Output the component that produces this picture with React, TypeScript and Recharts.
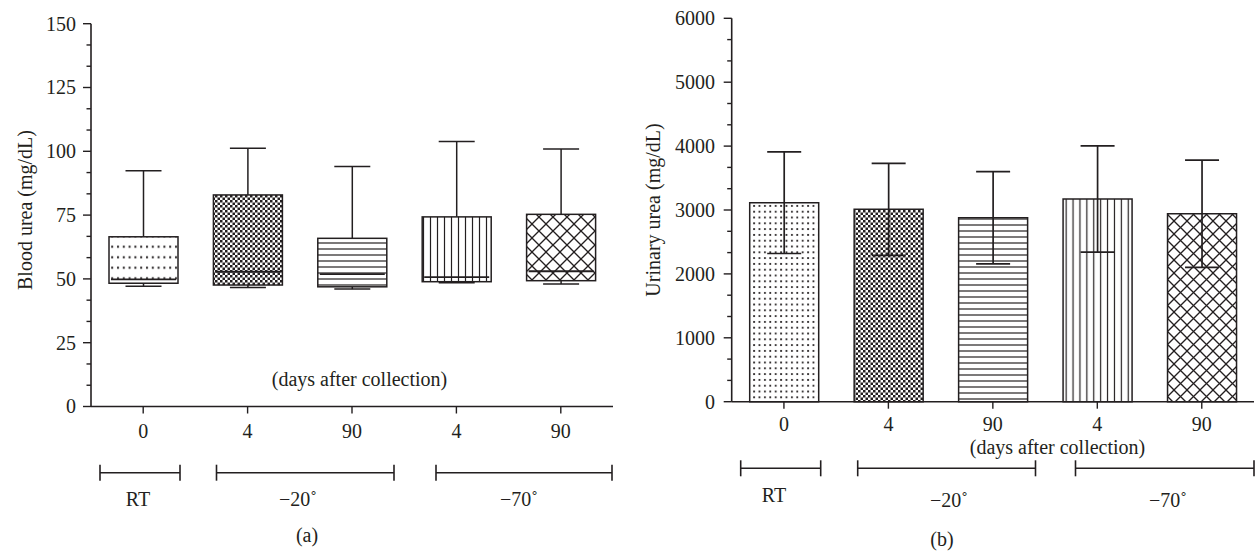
import React from "react"
import { ComposedChart, Bar, XAxis, YAxis, ErrorBar, Cell } from "recharts"

const INK = "#231f20"
const FONT = '"Liberation Serif", "Times New Roman", serif'

// categories shared by both panels
const groupIds = ["rt-0", "m20-4", "m20-90", "m70-4", "m70-90"]
const dayLabels = ["0", "4", "90", "4", "90"]

// (a) blood urea, box plot (mg/dL)
const bloodMin = [47.1, 46.6, 46.0, 48.5, 48.0]
const bloodQ1 = [48.3, 47.6, 46.9, 48.9, 49.3]
const bloodMedian = [49.8, 52.8, 51.9, 50.7, 53.0]
const bloodQ3 = [66.5, 82.9, 65.9, 74.3, 75.3]
const bloodMax = [92.4, 101.2, 94.0, 103.8, 100.9]
const bloodMajorTicks = [0, 25, 50, 75, 100, 125, 150]

// (b) urinary urea, mean and SD (mg/dL)
const urineMean = [3114, 3011, 2880, 3172, 2942]
const urineSd = [795, 720, 722, 832, 840]
const urineMajorTicks = [0, 1000, 2000, 3000, 4000, 5000, 6000]

const patternsA = ["dots-a", "check-a", "hline-a", "vline-a", "cross-a"]
const patternsB = ["dots-b", "check-b", "hline-b", "vline-b", "cross-b"]

const bloodRows = groupIds.map((id, i) => ({
  id,
  min: bloodMin[i],
  q1: bloodQ1[i],
  median: bloodMedian[i],
  q3: bloodQ3[i],
  max: bloodMax[i],
}))

const urineRows = groupIds.map((id, i) => ({
  id,
  mean: urineMean[i],
  sd: urineSd[i],
}))

// major ticks plus two minor ticks in every interval
function withMinor(majors: number[], per = 3) {
  const out: number[] = []
  for (let i = 0; i < majors.length - 1; i++) {
    const step = (majors[i + 1] - majors[i]) / per
    for (let k = 0; k < per; k++) out.push(majors[i] + step * k)
  }
  out.push(majors[majors.length - 1])
  return out
}

const Y_TICK_SIZE = 8

function renderYTick(props: any, majors: number[], margin: number) {
  const { x, y, payload } = props
  const v = payload.value
  const isMajor = majors.some((m) => Math.abs(m - v) < 1e-6)
  const ax = x + Y_TICK_SIZE + margin
  return (
    <g>
      <line x1={ax - (isMajor ? 8 : 4.5)} x2={ax} y1={y} y2={y} stroke={INK} strokeWidth={1.4} />
      {isMajor && (
        <text x={x} y={y} dy="0.34em" textAnchor="end" fill={INK} fontSize={20} fontFamily={FONT}>
          {v}
        </text>
      )}
    </g>
  )
}

function Patterns({ ids, dot, dotSize, check, hline, vline, cross }: any) {
  return (
    <defs>
      <pattern id={ids[0]} width={dot[0]} height={dot[1]} patternUnits="userSpaceOnUse">
        <rect width={dot[0]} height={dot[1]} fill="#fff" />
        <rect x={1} y={dot[1] / 2 - dotSize / 2} width={dotSize} height={dotSize} fill={INK} />
      </pattern>
      <pattern id={ids[1]} width={check * 2} height={check * 2} patternUnits="userSpaceOnUse">
        <rect width={check * 2} height={check * 2} fill="#fff" />
        <rect width={check} height={check} fill={INK} />
        <rect x={check} y={check} width={check} height={check} fill={INK} />
      </pattern>
      <pattern id={ids[2]} width={10} height={hline} patternUnits="userSpaceOnUse">
        <rect width={10} height={hline} fill="#fff" />
        <line x1={0} x2={10} y1={hline / 2} y2={hline / 2} stroke={INK} strokeWidth={1.2} />
      </pattern>
      <pattern id={ids[3]} width={vline} height={10} patternUnits="userSpaceOnUse">
        <rect width={vline} height={10} fill="#fff" />
        <line x1={vline / 2} x2={vline / 2} y1={0} y2={10} stroke={INK} strokeWidth={1.2} />
      </pattern>
      <pattern id={ids[4]} width={cross} height={cross} patternUnits="userSpaceOnUse">
        <rect width={cross} height={cross} fill="#fff" />
        <line x1={0} y1={0} x2={cross} y2={cross} stroke={INK} strokeWidth={1.3} />
        <line x1={cross} y1={0} x2={0} y2={cross} stroke={INK} strokeWidth={1.3} />
      </pattern>
    </defs>
  )
}

// box with median line and whiskers, scaled from the bar's own pixel height
const BoxShape = (props: any) => {
  const { x, y, width, height, payload, index } = props
  const top = Math.min(y, y + height)
  const h = Math.abs(height)
  const ppu = h / (payload.q3 - payload.q1)
  const cx = x + width / 2
  const bottom = top + h
  const medY = top + (payload.q3 - payload.median) * ppu
  const maxY = top - (payload.max - payload.q3) * ppu
  const minY = bottom + (payload.q1 - payload.min) * ppu
  const cap = 18
  const line = { stroke: INK, strokeWidth: 1.5 }
  return (
    <g>
      <line x1={cx} x2={cx} y1={top} y2={maxY} {...line} />
      <line x1={cx - cap} x2={cx + cap} y1={maxY} y2={maxY} {...line} />
      <line x1={cx} x2={cx} y1={bottom} y2={minY} {...line} />
      <line x1={cx - cap} x2={cx + cap} y1={minY} y2={minY} {...line} />
      <rect x={x} y={top} width={width} height={h} fill={`url(#${patternsA[index]})`} {...line} />
      <line x1={x + 2} x2={x + width - 2} y1={medY} y2={medY} stroke={INK} strokeWidth={1.8} />
    </g>
  )
}

const axisLine = { stroke: INK, strokeWidth: 1.6 }

function Bracket({ x1, x2, y }: { x1: number; x2: number; y: number }) {
  return (
    <g stroke={INK} strokeWidth={1.6}>
      <line x1={x1} x2={x2} y1={y} y2={y} />
      <line x1={x1} x2={x1} y1={y - 8} y2={y + 8} />
      <line x1={x2} x2={x2} y1={y - 8} y2={y + 8} />
    </g>
  )
}

export default function App() {
  return (
    <div
      style={{
        position: "absolute",
        left: 0,
        top: 0,
        width: 1256,
        height: 553,
        background: "#fff",
        fontFamily: FONT,
      }}
    >
      <div style={{ position: "absolute", left: 0, top: 0 }}>
        <ComposedChart
          width={628}
          height={553}
          data={bloodRows}
          margin={{ top: 23.7, right: 15, bottom: 116.5, left: 0 }}
        >
          <Patterns ids={patternsA} dot={[5.8, 10.5]} dotSize={2} check={2.5} hline={6} vline={7} cross={14} />
          <XAxis
            dataKey="id"
            interval={0}
            height={30}
            tickFormatter={(_: any, i: number) => dayLabels[i]}
            tickSize={7}
            tickMargin={10}
            axisLine={axisLine}
            tickLine={{ stroke: INK, strokeWidth: 1.4 }}
            tick={{ fill: INK, fontSize: 20, fontFamily: FONT }}
          />
          <YAxis
            type="number"
            width={91}
            domain={[0, 150]}
            ticks={withMinor(bloodMajorTicks)}
            interval={0}
            tickSize={Y_TICK_SIZE}
            tickMargin={7}
            tickLine={false}
            axisLine={axisLine}
            tick={(p: any) => renderYTick(p, bloodMajorTicks, 7)}
          />
          <Bar
            dataKey={(d: any) => [d.q1, d.q3]}
            barSize={69}
            shape={BoxShape}
            isAnimationActive={false}
          />
        </ComposedChart>
      </div>

      <div style={{ position: "absolute", left: 628, top: 0 }}>
        <ComposedChart
          width={628}
          height={553}
          data={urineRows}
          margin={{ top: 18.3, right: 2, bottom: 121.3, left: 0 }}
        >
          <Patterns ids={patternsB} dot={[5.4, 5.8]} dotSize={1.8} check={2.5} hline={6} vline={6.9} cross={13} />
          <XAxis
            dataKey="id"
            interval={0}
            height={30}
            tickFormatter={(_: any, i: number) => dayLabels[i]}
            tickSize={7}
            tickMargin={8}
            axisLine={axisLine}
            tickLine={{ stroke: INK, strokeWidth: 1.4 }}
            tick={{ fill: INK, fontSize: 20, fontFamily: FONT }}
          />
          <YAxis
            type="number"
            width={103.7}
            domain={[0, 6000]}
            ticks={withMinor(urineMajorTicks)}
            interval={0}
            tickSize={Y_TICK_SIZE}
            tickMargin={8.7}
            tickLine={false}
            axisLine={axisLine}
            tick={(p: any) => renderYTick(p, urineMajorTicks, 8.7)}
          />
          <Bar dataKey="mean" barSize={69} isAnimationActive={false}>
            {urineRows.map((r, i) => (
              <Cell key={r.id} fill={`url(#${patternsB[i]})`} stroke={INK} strokeWidth={1.5} />
            ))}
            <ErrorBar
              dataKey="sd"
              width={17}
              stroke={INK}
              strokeWidth={1.7}
              direction="y"
              isAnimationActive={false}
            />
          </Bar>
        </ComposedChart>
      </div>

      <svg
        width={1256}
        height={553}
        style={{ position: "absolute", left: 0, top: 0, pointerEvents: "none" }}
        fontFamily={FONT}
        fontSize={20}
        fill={INK}
      >
        {/* panel a labels */}
        <text transform="translate(32 210) rotate(-90)" textAnchor="middle">
          Blood urea (mg/dL)
        </text>
        <text x={359.5} y={386} textAnchor="middle">(days after collection)</text>
        <Bracket x1={100} x2={180} y={472.7} />
        <Bracket x1={216.5} x2={394} y={472.7} />
        <Bracket x1={436} x2={612} y={472.7} />
        <text x={138} y={506} textAnchor="middle">RT</text>
        <text x={298} y={506} textAnchor="middle">−20˚</text>
        <text x={519} y={506} textAnchor="middle">−70˚</text>
        <text x={307} y={542} textAnchor="middle">(a)</text>

        {/* panel b labels */}
        <text transform="translate(660 210) rotate(-90)" textAnchor="middle">
          Urinary urea (mg/dL)
        </text>
        <text x={1057.5} y={454} textAnchor="middle">(days after collection)</text>
        <Bracket x1={740.7} x2={820.7} y={468.3} />
        <Bracket x1={857.7} x2={1035.5} y={468.3} />
        <Bracket x1={1075.5} x2={1254} y={468.3} />
        <text x={774} y={502} textAnchor="middle">RT</text>
        <text x={949} y={507} textAnchor="middle">−20˚</text>
        <text x={1168} y={507} textAnchor="middle">−70˚</text>
        <text x={942} y={546} textAnchor="middle">(b)</text>
      </svg>
    </div>
  )
}
